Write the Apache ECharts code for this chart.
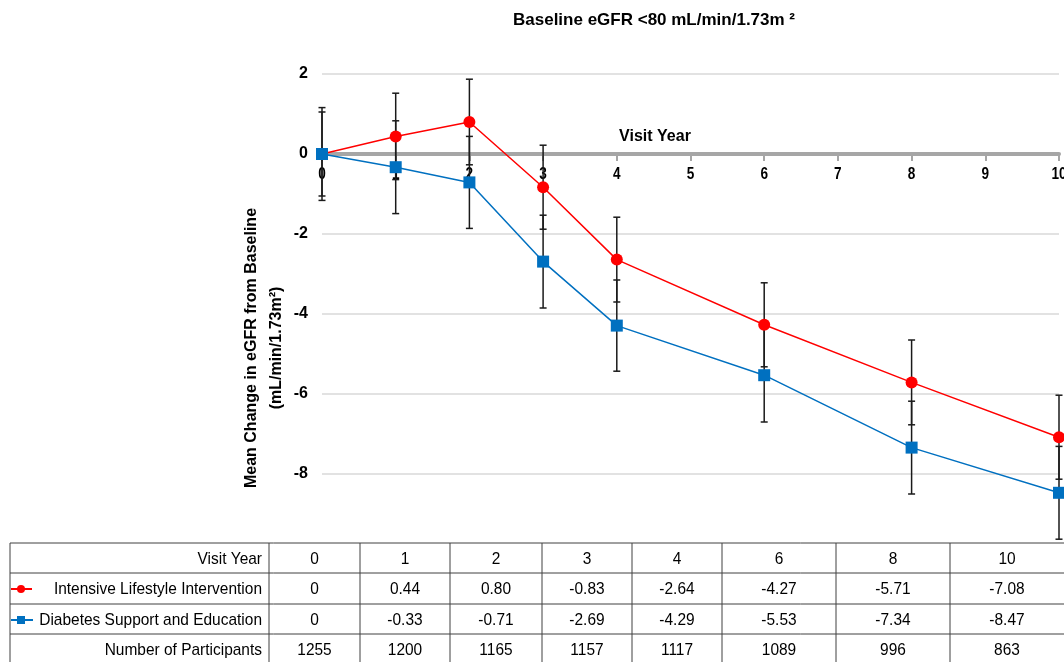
<!DOCTYPE html>
<html>
<head>
<meta charset="utf-8">
<script src="https://cdn.jsdelivr.net/npm/echarts@6.0.0/dist/echarts.min.js"></script>
<style>
  html, body { margin: 0; padding: 0; background: #fff; }
  #chart { width: 1064px; height: 662px; }
</style>
</head>
<body>
<div id="chart"></div>
<script>
// ---- data ----
const visitYears = [0, 1, 2, 3, 4, 6, 8, 10];
const iliMean = [0, 0.44, 0.80, -0.83, -2.64, -4.27, -5.71, -7.08];
const dseMean = [0, -0.33, -0.71, -2.69, -4.29, -5.53, -7.34, -8.47];
// half-width of the error bars
const iliErr = [1.05, 1.08, 1.07, 1.05, 1.06, 1.05, 1.06, 1.05];
const dseErr = [1.16, 1.16, 1.15, 1.16, 1.14, 1.17, 1.16, 1.16];
const participants = [1255, 1200, 1165, 1157, 1117, 1089, 996, 863];
const xTickLabels = [0, 1, 2, 3, 4, 5, 6, 7, 8, 9, 10];
const seriesNames = ['Intensive Lifestyle Intervention', 'Diabetes Support and Education'];
const rowLabels = ['Visit Year', 'Intensive Lifestyle Intervention', 'Diabetes Support and Education', 'Number of Participants'];

const FONT = '"Liberation Sans", Arial, sans-serif';
const RED = '#ff0000';
const BLUE = '#0070c0';

const chart = echarts.init(document.getElementById('chart'));

// error bar series (custom)
function errorSeries(mean, err) {
  return {
    type: 'custom',
    z: 2,
    silent: true,
    data: visitYears.map((x, i) => [x, mean[i], err[i]]),
    renderItem: (params, api) => {
      const x = api.value(0), y = api.value(1), e = api.value(2);
      const top = api.coord([x, y + e]);
      const bot = api.coord([x, y - e]);
      const cap = 3.5;
      const st = { stroke: '#1a1a1a', lineWidth: 1.5 };
      return {
        type: 'group',
        children: [
          { type: 'line', shape: { x1: top[0], y1: top[1], x2: bot[0], y2: bot[1] }, style: st },
          { type: 'line', shape: { x1: top[0] - cap, y1: top[1], x2: top[0] + cap, y2: top[1] }, style: st },
          { type: 'line', shape: { x1: bot[0] - cap, y1: bot[1], x2: bot[0] + cap, y2: bot[1] }, style: st }
        ]
      };
    }
  };
}

// x tick labels sit just under the zero line
const xLabelSeries = {
  type: 'custom',
  z: 1,
  silent: true,
  data: xTickLabels.map(v => [v, 0]),
  renderItem: (params, api) => {
    const p = api.coord([api.value(0), 0]);
    return {
      type: 'text',
      x: p[0], y: p[1] + 21, scaleX: 0.85,
      style: { text: String(api.value(0)), fontSize: 16, fontWeight: 'bold', fontFamily: FONT, fill: '#000', align: 'center', verticalAlign: 'middle' }
    };
  }
};

// --------------------------
// table under the chart
// --------------------------
const colEdges = [10, 269, 360, 450, 542, 632, 722, 836, 950, 1064];
const rowEdges = [543, 573, 604, 634, 664];
const fmt = v => (v === 0 ? '0' : v.toFixed(2));
const tableRows = [
  visitYears.map(String),
  iliMean.map(fmt),
  dseMean.map(fmt),
  participants.map(String)
];

const tableEls = [];
tableEls.push({ type: 'rect', z: 100, shape: { x: 0, y: 541, width: 1064, height: 125 }, style: { fill: '#fff' } });
rowEdges.forEach(y => {
  tableEls.push({ type: 'line', z: 101, shape: { x1: 10, y1: y, x2: 1064, y2: y }, style: { stroke: '#404040', lineWidth: 1 } });
});
colEdges.slice(0, -1).forEach(x => {
  tableEls.push({ type: 'line', z: 101, shape: { x1: x, y1: 543, x2: x, y2: 664 }, style: { stroke: '#404040', lineWidth: 1 } });
});
const cellStyle = { fontSize: 17, fontFamily: FONT, fill: '#000', verticalAlign: 'middle' };
rowLabels.forEach((lab, r) => {
  const cy = (rowEdges[r] + rowEdges[r + 1]) / 2 + 1;
  tableEls.push({
    type: 'text', z: 101, x: 262, y: cy, scaleX: 0.91,
    style: Object.assign({ text: lab, align: 'right' }, cellStyle)
  });
  tableRows[r].forEach((v, c) => {
    tableEls.push({
      type: 'text', z: 101, x: (colEdges[c + 1] + colEdges[c + 2]) / 2, y: cy, scaleX: 0.91,
      style: Object.assign({ text: v, align: 'center' }, cellStyle)
    });
  });
});
// legend keys in the table
tableEls.push({ type: 'line', z: 102, shape: { x1: 11, y1: 589, x2: 32, y2: 589 }, style: { stroke: RED, lineWidth: 2 } });
tableEls.push({ type: 'circle', z: 102, shape: { cx: 21, cy: 589, r: 4 }, style: { fill: RED } });
tableEls.push({ type: 'line', z: 102, shape: { x1: 11, y1: 620, x2: 33, y2: 620 }, style: { stroke: BLUE, lineWidth: 2 } });
tableEls.push({ type: 'rect', z: 102, shape: { x: 17, y: 616, width: 8, height: 8 }, style: { fill: BLUE } });

const option = {
  animation: false,
  backgroundColor: '#fff',
  grid: { left: 322, right: 5, top: 74, bottom: 108 },
  xAxis: {
    type: 'value',
    min: 0,
    max: 10,
    interval: 1,
    axisLine: { onZero: true, lineStyle: { color: '#a6a6a6', width: 4 } },
    axisTick: { show: true, length: 7, lineStyle: { color: '#a6a6a6', width: 2 } },
    axisLabel: { show: false },
    splitLine: { show: false }
  },
  yAxis: {
    type: 'value',
    min: -10,
    max: 2,
    interval: 2,
    axisLine: { show: false },
    axisTick: { show: false },
    axisLabel: {
      color: '#000', fontSize: 16, fontWeight: 'bold', fontFamily: FONT, margin: 14,
      formatter: v => (v === -10 ? '' : String(v))
    },
    splitLine: { showMinLine: false, lineStyle: { color: '#d9d9d9', width: 1.5 } }
  },
  series: [
    xLabelSeries,
    errorSeries(iliMean, iliErr),
    errorSeries(dseMean, dseErr),
    {
      name: seriesNames[0],
      type: 'line',
      z: 3,
      data: visitYears.map((x, i) => [x, iliMean[i]]),
      symbol: 'circle',
      symbolSize: 12,
      lineStyle: { color: RED, width: 1.5 },
      itemStyle: { color: RED }
    },
    {
      name: seriesNames[1],
      type: 'line',
      z: 3,
      data: visitYears.map((x, i) => [x, dseMean[i]]),
      symbol: 'rect',
      symbolSize: 12,
      lineStyle: { color: BLUE, width: 1.5 },
      itemStyle: { color: BLUE }
    }
  ],
  graphic: [
    {
      type: 'text', x: 654, y: 20, z: 100,
      style: { text: 'Baseline eGFR <80 mL/min/1.73m ²', fontSize: 17, fontWeight: 'bold', fontFamily: FONT, fill: '#000', align: 'center', verticalAlign: 'middle' }
    },
    {
      type: 'text', x: 655, y: 137, z: 100,
      style: { text: 'Visit Year', fontSize: 16, fontWeight: 'bold', fontFamily: FONT, fill: '#000', align: 'center', verticalAlign: 'middle' }
    },
    {
      type: 'text', x: 264, y: 348, rotation: Math.PI / 2, z: 100,
      style: {
        text: 'Mean Change in eGFR from Baseline\n(mL/min/1.73m²)',
        fontSize: 16, fontWeight: 'bold', fontFamily: FONT, fill: '#000',
        align: 'center', verticalAlign: 'middle', lineHeight: 25
      }
    },
    { type: 'group', z: 100, children: tableEls }
  ]
};

chart.setOption(option);
</script>
</body>
</html>
